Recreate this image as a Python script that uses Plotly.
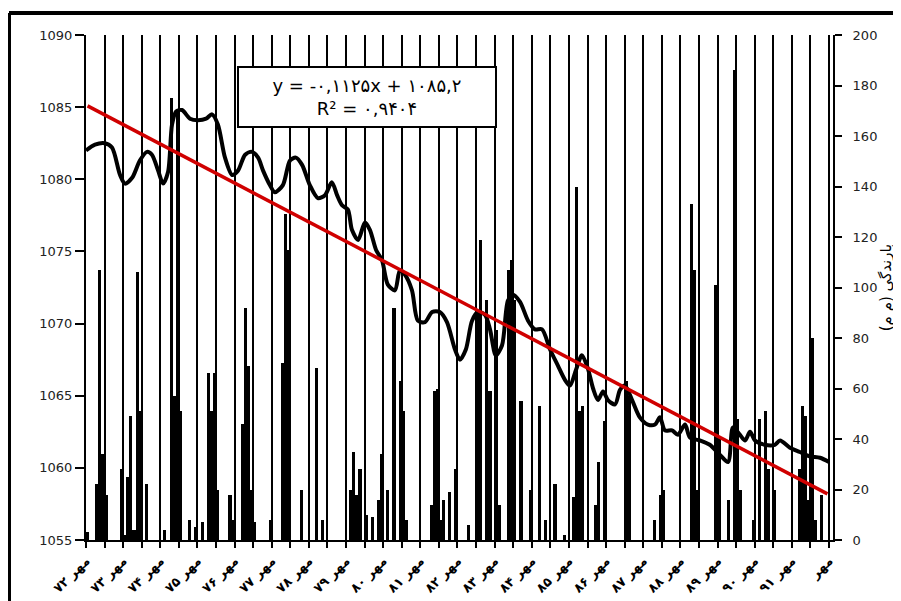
import plotly.graph_objects as go

# ---------------- data ----------------
# x tick labels (one per water year, at month index 0.5, 12.5, ...)
year_labels = ["مهر ۷۲", "مهر ۷۳", "مهر ۷۴", "مهر ۷۵", "مهر ۷۶", "مهر ۷۷", "مهر ۷۸",
               "مهر ۷۹", "مهر ۸۰", "مهر ۸۱", "مهر ۸۲", "مهر ۸۳", "مهر ۸۴", "مهر ۸۵",
               "مهر ۸۶", "مهر ۸۷", "مهر ۸۸", "مهر ۸۹", "مهر ۹۰", "مهر ۹۱", "مهر"]

# monthly rainfall (mm), month 1 .. 240
rain_mm = [
    3, 0, 0, 22, 107, 34, 18, 0, 0, 0, 0, 28,
    2, 25, 49, 4, 106, 51, 0, 22, 0, 0, 0, 0,
    0, 4, 0, 175, 57, 170, 51, 0, 0, 8, 0, 5,
    0, 7, 0, 66, 51, 66, 20, 0, 0, 0, 18, 8,
    0, 0, 46, 92, 69, 20, 7, 0, 0, 0, 0, 8,
    0, 0, 0, 70, 129, 115, 0, 0, 0, 20, 0, 0,
    0, 0, 68, 0, 8, 0, 0, 0, 0, 0, 0, 0,
    0, 20, 35, 18, 28, 0, 10, 0, 9, 0, 16, 34,
    0, 20, 0, 92, 0, 63, 51, 8, 0, 0, 0, 0,
    0, 0, 0, 14, 59, 60, 8, 16, 0, 19, 0, 28,
    0, 0, 0, 6, 0, 0, 91, 119, 0, 95, 59, 0,
    83, 14, 0, 0, 107, 111, 95, 0, 55, 0, 0, 20,
    0, 0, 53, 0, 8, 0, 0, 22, 0, 0, 2, 0,
    0, 17, 140, 51, 53, 0, 0, 0, 14, 31, 0, 47,
    0, 0, 0, 0, 0, 0, 63, 57, 0, 0, 0, 0,
    0, 0, 0, 8, 0, 18, 20, 0, 0, 0, 0, 0,
    0, 0, 0, 133, 107, 20, 0, 0, 0, 0, 0, 101,
    40, 0, 0, 16, 0, 186, 48, 20, 0, 0, 0, 8,
    0, 48, 0, 51, 28, 0, 20, 0, 0, 0, 0, 0,
    0, 0, 28, 53, 49, 16, 80, 8, 0, 18, 0, 0,
]

# groundwater level (m): month index and level
level_month = [0.5, 3.4, 6.6, 8.9, 11.5, 13.1, 15.4, 17.9, 20.2, 21.8, 23.8, 25.4, 27.0,
               28.3, 29.6, 31.5, 34.1, 36.7, 39.3, 41.2, 43.1, 45.4, 47.7, 49.6, 51.9,
               54.1, 56.1, 57.7, 59.9, 61.5, 64.1, 66.4, 68.3, 70.3, 72.8, 75.4, 77.7,
               79.9, 81.6, 83.2, 85.1, 86.4, 88.4, 90.6, 92.2, 94.2, 96.1, 98.0, 100.3,
               101.9, 103.5, 105.8, 107.7, 110.0, 112.3, 114.8, 117.1, 119.7, 121.3,
               123.2, 125.2, 127.1, 129.4, 131.0, 132.9, 134.9, 136.8, 138.4, 140.7,
               143.3, 145.5, 147.8, 150.4, 152.9, 155.2, 156.8, 158.8, 160.7, 162.6,
               164.3, 165.9, 167.5, 169.1, 171.4, 173.0, 174.6, 176.9, 179.4, 182.0,
               184.3, 185.9, 187.5, 189.8, 191.7, 194.0, 195.6, 198.8, 202.0, 205.3,
               207.9, 209.5, 211.7, 213.4, 215.0, 216.6, 219.8, 223.0, 224.7, 227.9,
               231.1, 234.3, 237.6, 240.5]
level_m = [1082.0, 1082.4, 1082.5, 1082.2, 1080.3, 1079.7, 1080.1, 1081.3, 1081.9, 1081.7,
           1080.6, 1079.7, 1080.5, 1083.8, 1084.7, 1084.8, 1084.2, 1084.1, 1084.2, 1084.5,
           1083.8, 1081.5, 1080.3, 1080.6, 1081.7, 1081.9, 1081.5, 1080.6, 1079.6, 1079.1,
           1079.6, 1081.3, 1081.5, 1081.0, 1079.6, 1078.7, 1078.9, 1079.8, 1078.9, 1078.2,
           1077.9, 1076.5, 1075.8, 1077.0, 1076.5, 1075.1, 1074.4, 1072.7, 1072.3, 1073.7,
           1073.4, 1072.3, 1070.2, 1070.1, 1070.8, 1070.8, 1070.1, 1068.2, 1067.5, 1068.2,
           1070.2, 1070.8, 1070.6, 1069.6, 1067.8, 1068.5, 1071.6, 1072.0, 1071.5, 1070.2,
           1069.6, 1069.6, 1068.2, 1067.1, 1066.1, 1065.7, 1066.8, 1067.8, 1066.9, 1065.5,
           1064.7, 1065.3, 1064.7, 1064.4, 1065.4, 1065.7, 1064.7, 1063.5, 1063.0, 1063.0,
           1063.5, 1062.6, 1062.6, 1062.3, 1063.0, 1062.1, 1061.9, 1061.6, 1060.9, 1060.4,
           1062.8, 1062.3, 1061.9, 1062.5, 1061.9, 1061.6, 1061.6, 1061.9, 1061.4, 1061.1,
           1060.8, 1060.7, 1060.4]

# linear trend shown in the box: y = -0.1125 x + 1085.2
trend_slope = -0.1125
trend_intercept = 1085.2
equation_text = "y = -۰,۱۱۲۵x + ۱۰۸۵,۲<br>R² = ۰,۹۴۰۴"
rain_title = "بارندگی (م م)"

# ---------------- figure ----------------
months = list(range(1, len(rain_mm) + 1))
trend_y = [trend_slope * m + trend_intercept for m in months]
tickvals = [0.5 + 12 * i for i in range(len(year_labels))]

ML, MT, PW, PH = 78, 27, 747, 505   # plot area position inside the figure

fig = go.Figure()
fig.add_trace(go.Bar(x=months, y=rain_mm, marker=dict(color="black", line=dict(width=0)),
                     yaxis="y", showlegend=False))
fig.add_trace(go.Scatter(x=level_month, y=level_m, mode="lines", yaxis="y2",
                         line=dict(color="black", width=4, shape="spline", smoothing=0.8),
                         showlegend=False))
fig.add_trace(go.Scatter(x=months, y=trend_y, mode="lines", yaxis="y2",
                         line=dict(color="#d00000", width=3.5), showlegend=False))

fig.update_layout(
    width=893, height=593,
    margin=dict(l=ML, r=893 - ML - PW, t=MT, b=593 - MT - PH),
    paper_bgcolor="white", plot_bgcolor="white",
    bargap=0.0,
    font=dict(family="DejaVu Sans", color="black"),
    xaxis=dict(range=[0.5, 241.8], tickmode="array", tickvals=tickvals, ticktext=year_labels,
               tickangle=-45,
               tickfont=dict(size=13, family="DejaVu Sans", color="black", weight="bold"),
               ticks="outside", ticklen=6, tickwidth=2, tickcolor="black",
               showgrid=True, gridcolor="black", gridwidth=1.5,
               minor=dict(tick0=0.5, dtick=6, showgrid=True, gridcolor="black", gridwidth=1.5,
                          ticks="outside", ticklen=6, tickwidth=2, tickcolor="black"),
               showline=True, linecolor="black", linewidth=2, zeroline=False,
               automargin=False),
    yaxis=dict(range=[0, 200], dtick=20, side="right", showgrid=False, zeroline=False,
               showline=True, linecolor="black", linewidth=2,
               ticks="outside", ticklen=7, tickwidth=1.5, tickcolor="black",
               ticklabelstandoff=8,
               tickfont=dict(size=13, color="#222"), automargin=False,
               title=dict(text=rain_title, font=dict(size=15, family="DejaVu Sans"), standoff=0)),
    yaxis2=dict(range=[1055, 1090], dtick=5, side="left", overlaying="y", showgrid=False,
                zeroline=False, showline=True, linecolor="black", linewidth=2,
                ticks="outside", ticklen=9, tickwidth=1.5, tickcolor="black",
                tickfont=dict(size=13, color="#222"), automargin=False),
)

# equation box: centre at reference pixel (367, 97) -> paper coords
fig.add_annotation(x=(367 - 86) / PW, y=1 - (97 - 35) / PH, xref="paper", yref="paper",
                   text=equation_text, showarrow=False,
                   font=dict(size=18, family="DejaVu Sans", color="black"),
                   width=250, height=52,
                   bgcolor="white", bordercolor="black", borderwidth=2, borderpad=3,
                   xanchor="center", yanchor="middle", align="center")

# outer frame (top and left thick edges)
fx = (9 - 86) / PW
fy = 1 + (35 - 13) / PH
fig.add_shape(type="line", xref="paper", yref="paper", x0=fx, x1=1.2, y0=fy, y1=fy,
              line=dict(color="black", width=4))
fig.add_shape(type="line", xref="paper", yref="paper", x0=fx, x1=fx, y0=fy, y1=-0.2,
              line=dict(color="black", width=4))

fig.write_html("out.html")
